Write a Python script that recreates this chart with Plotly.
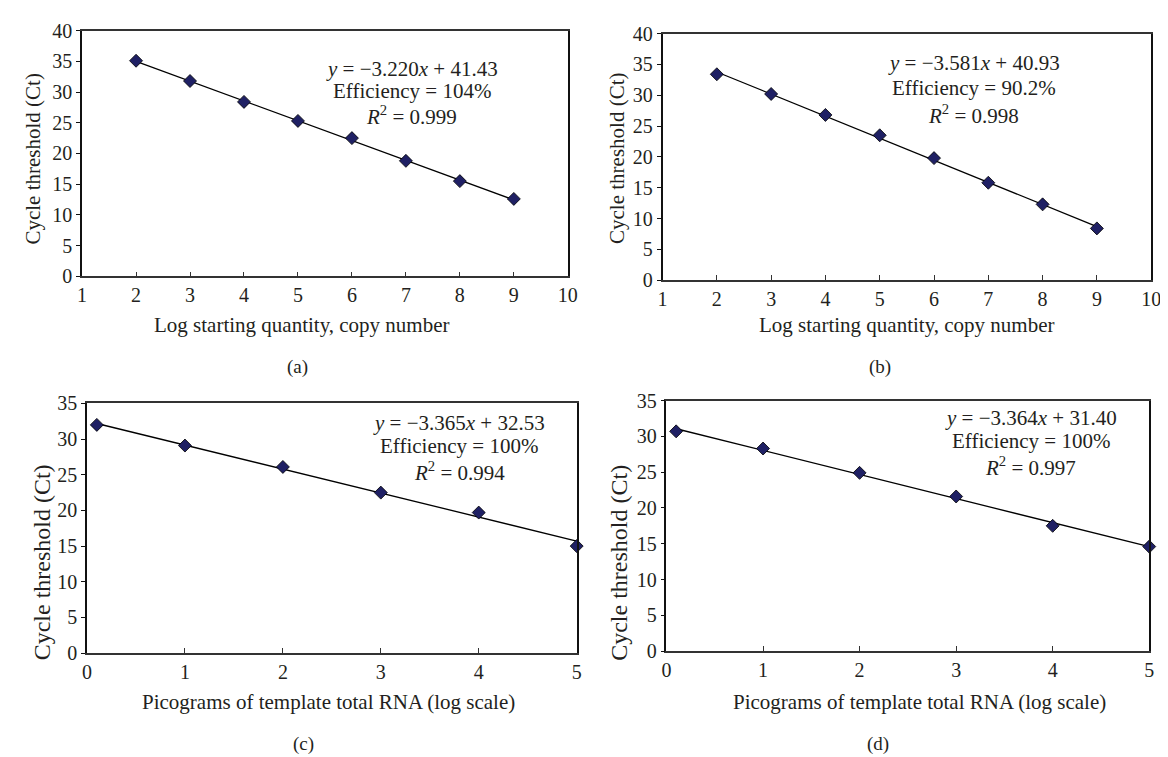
import plotly.graph_objects as go

# ---- data ----
x_ab = [2, 3, 4, 5, 6, 7, 8, 9]
ct_a = [35.1, 31.8, 28.4, 25.3, 22.5, 18.8, 15.5, 12.6]
ct_b = [33.4, 30.2, 26.8, 23.5, 19.8, 15.8, 12.3, 8.4]
x_cd = [0.1, 1, 2, 3, 4, 5]
ct_c = [32.0, 29.1, 26.1, 22.5, 19.7, 15.0]
ct_d = [30.7, 28.3, 24.9, 21.6, 17.5, 14.6]
slopes = [-3.220, -3.581, -3.365, -3.364]
intercepts = [41.43, 40.93, 32.53, 31.40]
efficiency = ["104%", "90.2%", "100%", "100%"]
r_squared = ["0.999", "0.998", "0.994", "0.997"]
panel_labels = ["(a)", "(b)", "(c)", "(d)"]
x_titles = ["Log starting quantity, copy number", "Log starting quantity, copy number",
            "Picograms of template total RNA (log scale)", "Picograms of template total RNA (log scale)"]
y_title = "Cycle threshold (Ct)"
x_ranges = [[1, 10], [1, 10], [0, 5], [0, 5]]
y_ranges = [[0, 40], [0, 40], [0, 35], [0, 35]]

xs = [x_ab, x_ab, x_cd, x_cd]
ys = [ct_a, ct_b, ct_c, ct_d]

W, H = 1168, 757
# plot area boxes in pixels: left, right, top, bottom
boxes = [(70, 562, 12, 265), (658, 1153, 15, 269), (75, 571, 396, 653), (662, 1151, 393, 651)]
# equation centre x and the three line centres y (px)
eq_x = [404, 973, 452, 1031]
eq_lines_y = [(51, 74, 99), (45, 71, 98), (416, 440, 466), (411, 435, 461)]
xt_pos = [(293, 315), (906, 315), (320, 703), (918, 703)]
yt_pos = [(20, 144), (612, 144), (29, 560), (614, 560)]
yt_size = [21, 21, 24, 24]
lab_pos = [(288, 358), (878, 358), (294, 747), (876, 747)]

FONT = "Liberation Serif"
TXT = "#231f20"

fig = go.Figure()
layout = dict(width=W, height=H, margin=dict(l=0, r=0, t=0, b=0),
              paper_bgcolor="white", plot_bgcolor="white", showlegend=False,
              font=dict(family=FONT, size=20, color=TXT))
annotations = []

def px(x):
    return x / W

def py(y):
    return 1 - y / H

def note(text, x, y, size=21, angle=0):
    annotations.append(dict(text=text, x=px(x), y=py(y), xref="paper", yref="paper",
                            showarrow=False, xanchor="center", yanchor="middle",
                            textangle=angle, font=dict(size=size, family=FONT, color=TXT)))

for i in range(4):
    sfx = "" if i == 0 else str(i + 1)
    l, r, t, b = boxes[i]
    layout["xaxis" + sfx] = dict(
        domain=[px(l), px(r)], range=x_ranges[i], dtick=1, anchor="y" + sfx,
        showline=True, linecolor="#333", linewidth=1.5, mirror=True,
        ticks="inside", ticklen=5, tickcolor="#333", tickwidth=1.2,
        showgrid=False, zeroline=False, tickfont=dict(size=20, family=FONT, color=TXT),
        fixedrange=True)
    layout["yaxis" + sfx] = dict(
        domain=[py(b), py(t)], range=y_ranges[i], dtick=5, anchor="x" + sfx,
        showline=True, linecolor="#111", linewidth=1.5, mirror=True,
        ticks="outside", ticklen=4, tickcolor="#111", tickwidth=1.2,
        showgrid=False, zeroline=False, tickfont=dict(size=20, family=FONT, color=TXT),
        fixedrange=True)
    xa = "x" + sfx
    ya = "y" + sfx
    # trend line from the fitted equation over the data range
    lx = [min(xs[i]), max(xs[i])]
    ly = [slopes[i] * v + intercepts[i] for v in lx]
    fig.add_trace(go.Scatter(x=lx, y=ly, mode="lines", line=dict(color="black", width=1.3),
                             xaxis=xa, yaxis=ya, hoverinfo="skip"))
    fig.add_trace(go.Scatter(x=xs[i], y=ys[i], mode="markers", xaxis=xa, yaxis=ya,
                             cliponaxis=False,
                             marker=dict(symbol="diamond", size=10, color="#1f2064",
                                         line=dict(color="black", width=0.8))))
    s = slopes[i]
    sign = "−" if s < 0 else ""
    lines = [f"<i>y</i> = {sign}{abs(s):.3f}<i>x</i> + {intercepts[i]:.2f}",
             f"Efficiency = {efficiency[i]}",
             f"<i>R</i><sup>2</sup> = {r_squared[i]}"]
    for txt, yy in zip(lines, eq_lines_y[i]):
        note(txt, eq_x[i], yy)
    note(x_titles[i], *xt_pos[i])
    note(y_title, *yt_pos[i], size=yt_size[i], angle=-90)
    note(panel_labels[i], *lab_pos[i], size=19)

layout["annotations"] = annotations
fig.update_layout(**layout)
fig.write_html("out.html")
